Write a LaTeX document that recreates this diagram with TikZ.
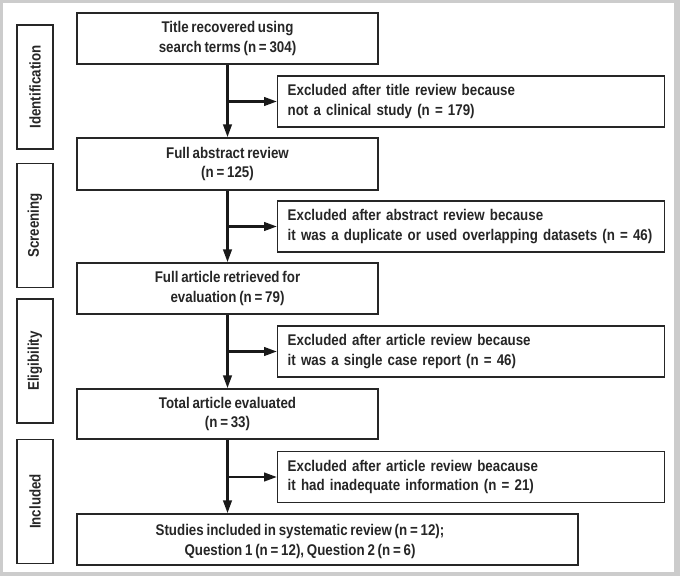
\documentclass[tikz,border=0pt]{standalone}
\usepackage{fontspec}
\setmainfont{Liberation Sans}[UprightFont=*-Bold, FakeStretch=0.86, WordSpace=0.75]
\usetikzlibrary{arrows.meta}

\tikzset{
  mainbox/.style={draw=black!85, line width=1.4pt, minimum width=301pt, minimum height=51pt,
    align=center, inner sep=0pt, text=black!85, font=\fontsize{15.5}{19.5}\selectfont},
  exbox/.style={draw=black!85, line width=1.4pt, anchor=west, text width=367pt, inner xsep=10pt,
    minimum height=51pt, align=left, text=black!85, font=\fontsize{15.5}{19.5}\selectfont},
  sidebox/.style={draw=black!85, line width=1.4pt, rotate=90, minimum width=124pt, minimum height=36pt,
    inner sep=0pt, text=black!85, font=\fontsize{15.5}{19.5}\selectfont},
  flow/.style={line width=2.6pt, draw=black!90, -{Triangle[length=13pt,width=8.5pt]}},
}

\begin{document}
\begin{tikzpicture}[x=1pt, y=-1pt]

\def\xm{227.5}; % centre of main column
\def\xe{277}; % left side of exclusion boxes
\def\xs{35}; % side labels

% frame
\fill[gray!40] (0,0) rectangle (680,576);
\fill[white] (3,3) rectangle (674,572);

% side labels
\node[sidebox] (ident) at (\xs, 87) {Identification};
\node[sidebox] (screen) at (\xs, 225.5) {Screening};
\node[sidebox] (elig) at (\xs, 361) {Eligibility};
\node[sidebox] (incl) at (\xs, 501.5) {Included};

% main column
\node[mainbox] (title) at (\xm, 38.5) {Title recovered using\\search terms (n = 304)};
\node[mainbox, minimum height=52pt] (abstr) at (\xm, 164) {Full abstract review\\(n = 125)};
\node[mainbox] (artic) at (\xm, 288.5) {Full article retrieved for\\evaluation (n = 79)};
\node[mainbox, minimum height=50pt] (total) at (\xm, 414) {Total article evaluated\\(n = 33)};
\node[mainbox, minimum width=501pt] (studies) at (327.5, 539.5) {};
\node[align=center, text=black!85, font=\fontsize{15.5}{19.5}\selectfont] (studtxt) at (300, 541.5)
  {Studies included in systematic review (n = 12);\\Question 1 (n = 12), Question 2 (n = 6)};

% exclusions
\node[exbox] (ex1) at (\xe, 101.5) {Excluded after title review because\\not a clinical study (n = 179)};
\node[exbox] (ex2) at (\xe, 226.5) {Excluded after abstract review because\\it was a duplicate or used overlapping datasets (n = 46)};
\node[exbox] (ex3) at (\xe, 351.5) {Excluded after article review because\\it was a single case report (n = 46)};
\node[exbox] (ex4) at (\xe, 477) {Excluded after article review beacause\\it had inadequate information (n = 21)};

% arrows
\draw[flow] (title) -- (abstr);
\draw[flow] (abstr) -- (artic);
\draw[flow] (artic) -- (total);
\draw[flow] (total.south) -- (total.south |- studies.north);

\draw[flow] (title |- ex1) -- (ex1.west);
\draw[flow] (abstr |- ex2) -- (ex2.west);
\draw[flow] (artic |- ex3) -- (ex3.west);
\draw[flow] (total |- ex4) -- (ex4.west);

\end{tikzpicture}
\end{document}
